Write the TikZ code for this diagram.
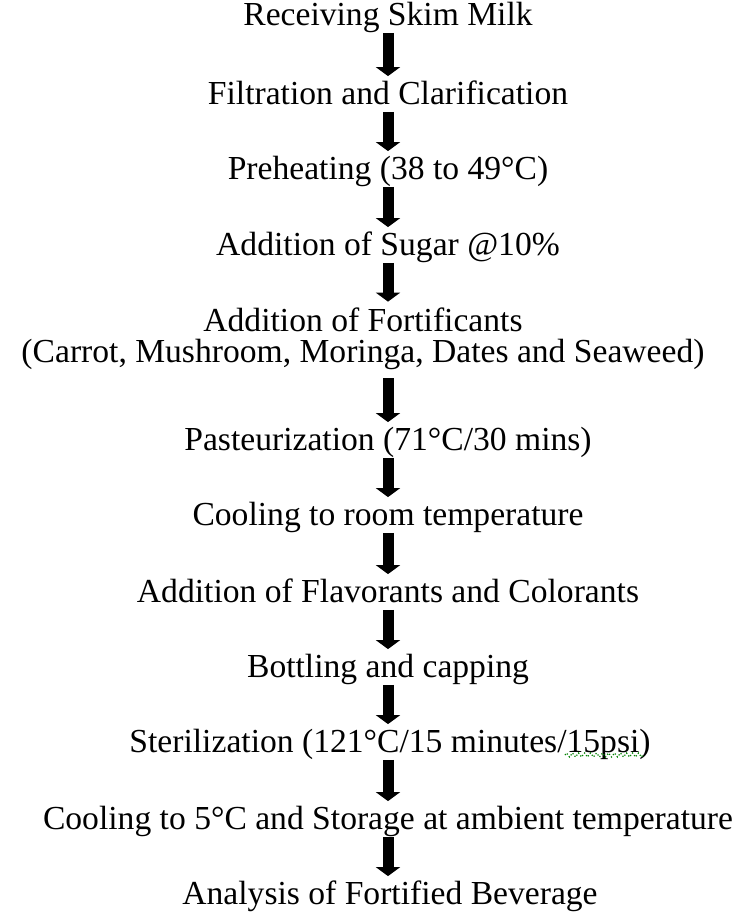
\documentclass[tikz,border=0pt]{standalone}
\usepackage{fontspec}
\setmainfont{Liberation Serif}
\usetikzlibrary{arrows.meta,decorations.pathmorphing}

\begin{document}
\begin{tikzpicture}[
  x=0.5pt, y=-0.5pt,
  stage/.style={inner sep=0pt, text height=14pt, text depth=3.5pt,
    font=\fontsize{16.8}{15}\selectfont},
  twoline/.style={inner sep=0pt, align=center,
    font=\fontsize{16.8}{15.5}\selectfont},
  flow/.style={line width=5.5pt, -{Triangle[width=12pt,length=4.5pt]}}
]
\useasboundingbox (0,0) rectangle (738,915);

\node [stage] (recv) at (388,15) {Receiving Skim Milk};
\node [stage] (filt) at (388,94) {Filtration and Clarification};
\node [stage] (preh) at (388,169) {Preheating (38 to 49°C)};
\node [stage] (sugar) at (388,245) {Addition of Sugar @10\%};
\node [twoline] (fort) at (363,339)
  {Addition of Fortificants\\(Carrot, Mushroom, Moringa, Dates and Seaweed)};
\node [stage] (past) at (388,440) {Pasteurization (71°C/30 mins)};
\node [stage] (cool) at (388,515) {Cooling to room temperature};
\node [stage] (flav) at (388,592) {Addition of Flavorants and Colorants};
\node [stage] (bott) at (388,667) {Bottling and capping};
\node [stage] (ster) at (390,742) {Sterilization (121°C/15 minutes/15psi)};
\node [stage] (store) at (388,819) {Cooling to 5°C and Storage at ambient temperature};
\node [stage] (anal) at (390,894) {Analysis of Fortified Beverage};

\draw [flow] (recv) -- (filt);
\draw [flow] (filt) -- (preh);
\draw [flow] (preh) -- (sugar);
\draw [flow, shorten >=3pt] (sugar) -- (sugar |- fort.north);
\draw [flow, shorten <=4pt] (fort.south -| past) -- (past);
\draw [flow] (past) -- (cool);
\draw [flow] (cool) -- (flav);
\draw [flow] (flav) -- (bott);
\draw [flow] (bott) -- (ster.north -| bott);
\draw [flow] (ster.south -| store) -- (store);
\draw [flow] (store) -- (anal.north -| store);

% spell-check mark under 15psi
\draw [green!50!black, line width=0.6pt, densely dotted, decorate,
  decoration={zigzag, segment length=3pt, amplitude=1pt}]
  (565,755) -- (643,755);
\end{tikzpicture}
\end{document}
